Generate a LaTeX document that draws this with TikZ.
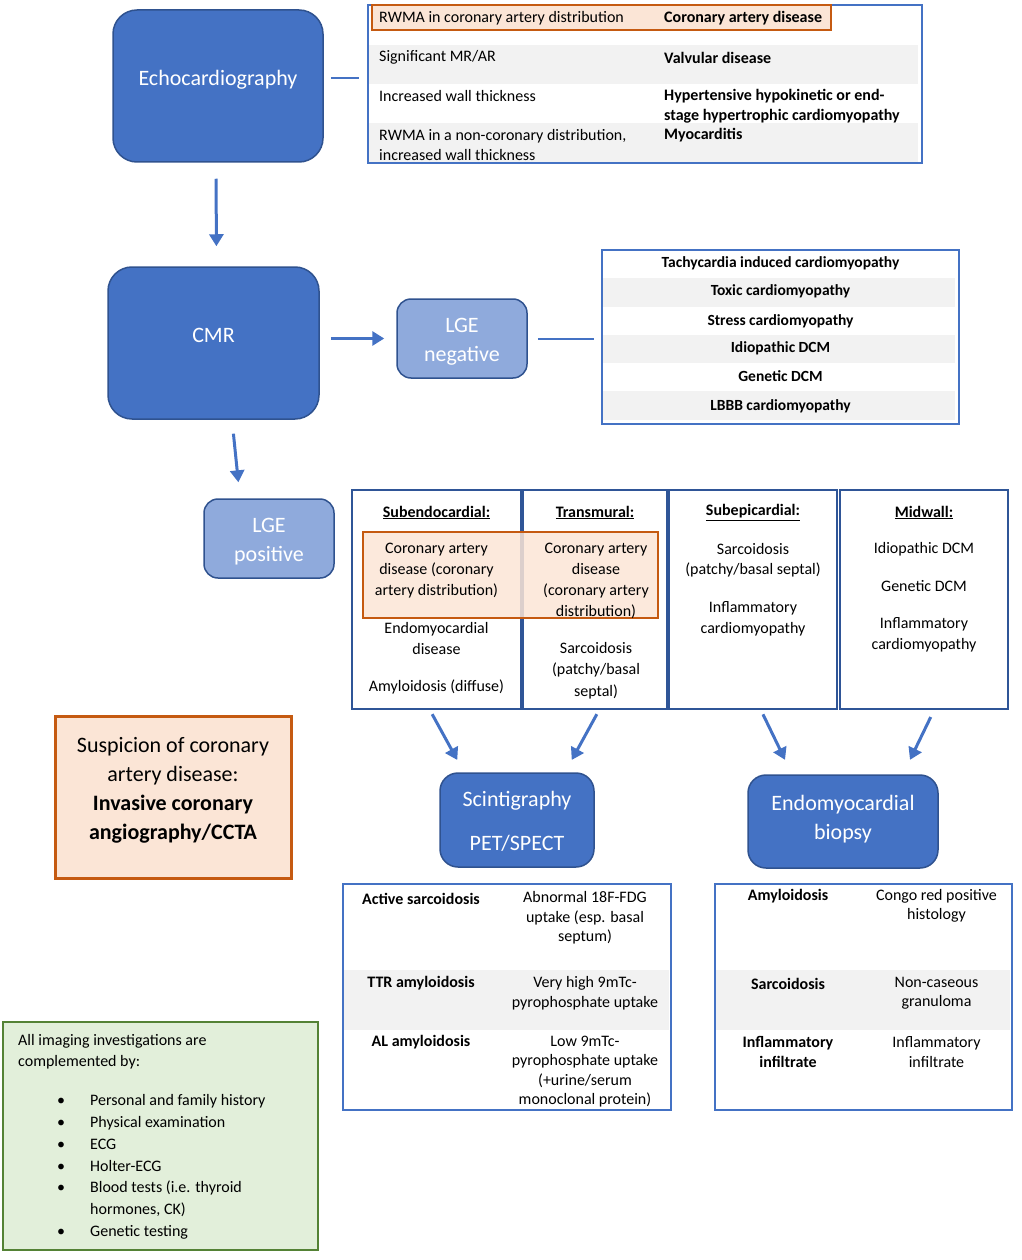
\documentclass[tikz,border=0pt]{standalone}
\usepackage{fontspec}
\setmainfont{Carlito}
\usetikzlibrary{arrows.meta}
\definecolor{mblue}{HTML}{4472C4}
\definecolor{dblue}{HTML}{2F528F}
\definecolor{lblue}{HTML}{8FAADC}
\definecolor{cblue}{HTML}{2F5597}
\definecolor{rowgray}{HTML}{F2F2F2}
\definecolor{orng}{HTML}{C55A11}
\definecolor{peach}{HTML}{FBE5D6}
\definecolor{gfill}{HTML}{E2EFDA}
\definecolor{gline}{HTML}{548235}
\newcommand{\vshiftbox}[2]{\raisebox{#1}[\height][\depth]{\begin{tabular}{@{}c@{}}#2\end{tabular}}}
\begin{document}
\begin{tikzpicture}[x=1pt,y=-1pt,
  bigbox/.style={draw=dblue,line width=1.5pt,fill=mblue,rounded corners=24pt,text=white,font=\fontsize{22}{27}\selectfont,align=center,inner sep=0pt},
  lgebox/.style={bigbox,fill=lblue,rounded corners=14pt,font=\fontsize{22}{29}\selectfont},
  tabbox/.style={draw=mblue,line width=2pt,inner sep=0pt},
  colbox/.style={draw=cblue,line width=2.5pt,inner sep=0pt,minimum height=219pt},
  hlbox/.style={draw=orng,line width=2.5pt,fill=peach,inner sep=0pt},
  rowfill/.style={fill=rowgray},
  tx/.style={font=\fontsize{16}{19.5}\selectfont,inner sep=0pt,align=center,yshift=-1.5pt},
  txl/.style={tx,align=left,anchor=west},
  arr/.style={draw=mblue,line width=3pt,-{Triangle[width=14pt,length=12pt]}},
  link/.style={draw=mblue,line width=2pt}]
\useasboundingbox (0,0) rectangle (1021,1260);

% ---------- row fills ----------
\fill[rowfill] (369,45) rectangle (918,84);
\fill[rowfill] (369,123) rectangle (918,162);
\fill[rowfill] (603,278) rectangle (955,307);
\fill[rowfill] (603,335) rectangle (955,363);
\fill[rowfill] (603,391) rectangle (955,420);
\fill[rowfill] (344,970) rectangle (669,1030);
\fill[rowfill] (716,970) rectangle (1010,1030);

% ---------- main boxes ----------
\node[bigbox,minimum width=210pt,minimum height=152pt] (echo) at (218,86) {\raisebox{6pt}[\height][\depth]{Echocardiography}};
\node[bigbox,minimum width=211pt,minimum height=152pt] (cmr) at (213.5,343) {\raisebox{8pt}[\height][\depth]{CMR}};
\node[lgebox,minimum width=130pt,minimum height=79pt] (lgeneg) at (462,338.5) {\vshiftbox{-3pt}{LGE\\negative}};
\node[lgebox,minimum width=130pt,minimum height=79pt] (lgepos) at (269,538.5) {\vshiftbox{-3pt}{LGE\\positive}};
\node[bigbox,rounded corners=18pt,font=\fontsize{22}{27}\selectfont,minimum width=154pt,minimum height=94pt] (scint) at (517,820) {\vshiftbox{-3pt}{Scintigraphy\\[17pt]PET/SPECT}};
\node[bigbox,rounded corners=18pt,font=\fontsize{22}{29}\selectfont,minimum width=190pt,minimum height=93pt] (biopsy) at (843,821.5) {\vshiftbox{2pt}{Endomyocardial\\biopsy}};

% ---------- tables ----------
\node[tabbox,minimum width=554pt,minimum height=158pt] (echotab) at (645,84) {};
\node[hlbox,minimum width=459pt,minimum height=25pt] (echohl) at (601.5,17.5) {};
\node[tabbox,minimum width=357pt,minimum height=174pt] (tachy) at (780.5,337) {};
\node[tabbox,minimum width=328pt,minimum height=226pt] (scintab) at (507,997) {};
\node[tabbox,minimum width=297pt,minimum height=226pt] (biotab) at (863.5,997) {};

% ---------- LGE pattern columns ----------
\node[colbox,minimum width=169pt] (sub) at (436.5,599.5) {};
\node[colbox,minimum width=144pt] (trans) at (595,599.5) {};
\node[colbox,minimum width=168pt] (epi) at (753,599.5) {};
\node[colbox,minimum width=168pt] (mid) at (924,599.5) {};
\node[hlbox,fill opacity=0.85,minimum width=295pt,minimum height=86pt] (colhl) at (510.5,575) {};

% ---------- side boxes ----------
\node[hlbox,line width=3pt,minimum width=236pt,minimum height=162pt] (susp) at (173,797) {};
\node[draw=gline,line width=2.5pt,fill=gfill,inner sep=0pt,minimum width=315pt,minimum height=228pt] (green) at (160.5,1136) {};

% ---------- connectors ----------
\draw[link,shorten <=7pt,shorten >=8pt] ([yshift=8pt]echo.east) -- ([yshift=8pt]echo.east -| echotab.west);
\draw[arr,shorten <=16pt,shorten >=20pt] ([xshift=-2pt]echo.south) -- ([xshift=3pt]cmr.north);
\draw[arr,shorten <=11pt,shorten >=12pt] (cmr.east |- lgeneg.west) -- (lgeneg.west);
\draw[link,shorten <=10pt,shorten >=7pt] (lgeneg.east) -- (lgeneg.east -| tachy.west);
\draw[arr,shorten <=14pt,shorten >=16pt] ([xshift=18.5pt]cmr.south) -- ([xshift=-29pt]lgepos.north);
\draw[arr,shorten <=4.5pt,shorten >=14pt] ([xshift=-6.5pt]sub.south) -- ([xshift=-53pt]scint.north);
\draw[arr,shorten <=4.5pt,shorten >=14pt] ([xshift=4pt]trans.south) -- ([xshift=48pt]scint.north);
\draw[arr,shorten <=4.5pt,shorten >=16pt] ([xshift=8pt]epi.south) -- ([xshift=-51pt]biopsy.north);
\draw[arr,shorten <=7.5pt,shorten >=16pt] ([xshift=10pt]mid.south) -- ([xshift=60pt]biopsy.north);

% ---------- echo table text ----------
\node[txl] (e1a) at (379,17) {RWMA in coronary artery distribution};
\node[txl] (e1b) at (664,17) {\textbf{Coronary artery disease}};
\node[txl] (e2a) at (379,56) {Significant MR/AR};
\node[txl] (e2b) at (664,56) {\textbf{Valvular disease}};
\node[txl] (e3a) at (379,95) {Increased wall thickness};
\node[txl] (e3b) at (664,104.5) {\textbf{Hypertensive hypokinetic or end-}\\\textbf{stage hypertrophic cardiomyopathy}};
\node[txl] (e4a) at (379,143.5) {RWMA in a non-coronary distribution,\\increased wall thickness};
\node[txl] (e4b) at (664,134) {\textbf{Myocarditis}};

% ---------- tachy table text ----------
\node[tx,font=\bfseries\fontsize{15.5}{19}\selectfont] (t1) at (780.5,262) {Tachycardia induced cardiomyopathy};
\node[tx,font=\bfseries\fontsize{15.5}{19}\selectfont] (t2) at (780.5,290) {Toxic cardiomyopathy};
\node[tx,font=\bfseries\fontsize{15.5}{19}\selectfont] (t3) at (780.5,320) {Stress cardiomyopathy};
\node[tx,font=\bfseries\fontsize{15.5}{19}\selectfont] (t4) at (780.5,347) {Idiopathic DCM};
\node[tx,font=\bfseries\fontsize{15.5}{19}\selectfont] (t5) at (780.5,375) {Genetic DCM};
\node[tx,font=\bfseries\fontsize{15.5}{19}\selectfont] (t6) at (780.5,405) {LBBB cardiomyopathy};

% ---------- column text ----------
\node[tx] (h1) at (436.5,511) {\textbf{\underline{Subendocardial:}}};
\node[tx] (h2) at (595,511) {\textbf{\underline{Transmural:}}};
\node[tx] (h3) at (753,511) {\textbf{\underline{Subepicardial:}}};
\node[tx] (h4) at (924,511) {\textbf{\underline{Midwall:}}};
\node[tx,font=\fontsize{16}{21}\selectfont] (s1) at (436.5,569) {Coronary artery\\disease (coronary\\artery distribution)};
\node[tx,font=\fontsize{16}{21}\selectfont] (s2) at (436.5,637) {Endomyocardial\\disease};
\node[tx] (s3) at (436.5,685) {Amyloidosis (diffuse)};
\node[tx,font=\fontsize{16}{21}\selectfont] (r1) at (596,579) {Coronary artery\\disease\\(coronary artery\\distribution)};
\node[tx,font=\fontsize{16}{21.5}\selectfont] (r2) at (596,669) {Sarcoidosis\\(patchy/basal\\septal)};
\node[tx,font=\fontsize{16}{20}\selectfont] (p1) at (753,558.5) {Sarcoidosis\\(patchy/basal septal)};
\node[tx,font=\fontsize{16}{21}\selectfont] (p2) at (753,617) {Inflammatory\\cardiomyopathy};
\node[tx] (m1) at (924,548) {Idiopathic DCM};
\node[tx] (m2) at (924,585) {Genetic DCM};
\node[tx,font=\fontsize{16}{21}\selectfont] (m3) at (924,633) {Inflammatory\\cardiomyopathy};

% ---------- suspicion text ----------
\node[tx,font=\fontsize{22}{29}\selectfont] (susptxt) at (173,789) {Suspicion of coronary\\artery disease:\\\textbf{Invasive coronary}\\\textbf{angiography/CCTA}};

% ---------- scintigraphy table ----------
\node[tx] (a1) at (421,897) {\textbf{Active sarcoidosis}};
\node[tx] (a2) at (585,916.5) {Abnormal 18F-FDG\\uptake (esp. basal\\septum)};
\node[tx] (a3) at (421,982) {\textbf{TTR amyloidosis}};
\node[tx] (a4) at (585,991.5) {Very high 9mTc-\\pyrophosphate uptake};
\node[tx] (a5) at (421,1041) {\textbf{AL amyloidosis}};
\node[tx] (a6) at (585,1070) {Low 9mTc-\\pyrophosphate uptake\\(+urine/serum\\monoclonal protein)};

% ---------- biopsy table ----------
\node[tx] (b1) at (788,895) {\textbf{Amyloidosis}};
\node[tx] (b2) at (936.5,904.5) {Congo red positive\\histology};
\node[tx] (b3) at (788,982) {\textbf{Sarcoidosis}};
\node[tx] (b4) at (936.5,991.5) {Non-caseous\\granuloma};
\node[tx] (b5) at (788,1050.5) {\textbf{Inflammatory}\\\textbf{infiltrate}};
\node[tx] (b6) at (936.5,1050.5) {Inflammatory\\infiltrate};

% ---------- green box text ----------
\node[txl,font=\fontsize{16}{21}\selectfont] (g1) at (18,1050.5) {All imaging investigations are\\complemented by:};
\node[txl,font=\fontsize{16}{21.8}\selectfont] (g2) at (57,1165.5) {\makebox[33pt][l]{\textbullet}Personal and family history\\
\makebox[33pt][l]{\textbullet}Physical examination\\
\makebox[33pt][l]{\textbullet}ECG\\
\makebox[33pt][l]{\textbullet}Holter-ECG\\
\makebox[33pt][l]{\textbullet}Blood tests (i.e. thyroid\\
\makebox[33pt][l]{}hormones, CK)\\
\makebox[33pt][l]{\textbullet}Genetic testing};
\end{tikzpicture}
\end{document}
